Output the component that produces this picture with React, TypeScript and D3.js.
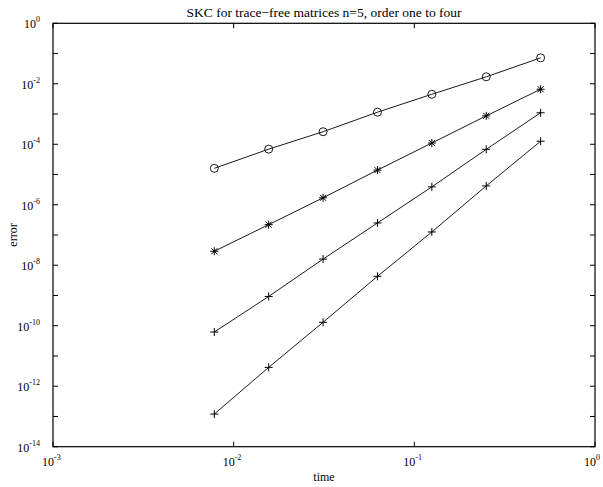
import React from "react";
import { scaleLog, line } from "d3";

const times = [0.0078125, 0.015625, 0.03125, 0.0625, 0.125, 0.25, 0.5];
const orderOne = [1.6e-5, 6.9e-5, 2.6e-4, 1.15e-3, 4.5e-3, 1.7e-2, 7.2e-2];
const orderTwo = [2.9e-8, 2.2e-7, 1.7e-6, 1.4e-5, 1.1e-4, 8.7e-4, 6.6e-3];
const orderThree = [6.2e-11, 9.3e-10, 1.6e-8, 2.5e-7, 3.9e-6, 6.8e-5, 1.1e-3];
const orderFour = [1.2e-13, 4.2e-12, 1.3e-10, 4.3e-9, 1.26e-7, 4.2e-6, 1.26e-4];
const xTickExps = [-3, -2, -1, 0];
const yTickExps = [0, -2, -4, -6, -8, -10, -12, -14];
const yMinorExps = [-1, -3, -5, -7, -9, -11, -13];

const series = [
  { values: orderOne, marker: "circle" },
  { values: orderTwo, marker: "star" },
  { values: orderThree, marker: "plus" },
  { values: orderFour, marker: "plus" },
];

const width = 603;
const height = 487;
const left = 53;
const right = 595;
const top = 23.3;
const bottom = 446.7;
const font = "Liberation Serif, Times New Roman, Times, serif";

const Marker = ({ x, y, type }: { x: number; y: number; type: string }) => {
  if (type === "circle") return <circle cx={x} cy={y} r={4} fill="none" stroke="#000" strokeWidth={0.9} />;
  const s = 4;
  if (type === "plus")
    return (
      <path d={`M${x - s},${y}H${x + s}M${x},${y - s}V${y + s}`} stroke="#000" strokeWidth={1} />
    );
  const d = s * 0.75;
  return (
    <path
      d={`M${x - s},${y}H${x + s}M${x},${y - s}V${y + s}M${x - d},${y - d}L${x + d},${y + d}M${x - d},${y + d}L${x + d},${y - d}`}
      stroke="#000"
      strokeWidth={1}
    />
  );
};

const Pow = ({ x, y, exp, anchor }: { x: number; y: number; exp: number; anchor: string }) => (
  <text x={x} y={y} textAnchor={anchor} fontFamily={font} fontSize={12} fill="#000">
    10<tspan dy={-6} fontSize={8}>{exp}</tspan>
  </text>
);

export default function App() {
  const x = scaleLog().domain([1e-3, 1]).range([left, right]);
  const y = scaleLog().domain([1e-14, 1]).range([bottom, top]);
  const path = line<number>()
    .x((_, i) => x(times[i]))
    .y((d) => y(d));
  const tick = 5;

  return (
    <svg width={width} height={height} style={{ position: "absolute", left: 0, top: 0, background: "#fff" }}>
      <rect x={0} y={0} width={width} height={height} fill="#fff" />
      <text x={(left + right) / 2} y={17} textAnchor="middle" fontFamily={font} fontSize={13.5}>
        SKC for trace−free matrices n=5, order one to four
      </text>
      {xTickExps.map((e) => (
        <g key={"x" + e}>
          <line x1={x(10 ** e)} x2={x(10 ** e)} y1={bottom} y2={bottom - tick} stroke="#000" />
          <line x1={x(10 ** e)} x2={x(10 ** e)} y1={top} y2={top + tick} stroke="#000" />
          <Pow x={x(10 ** e) - 11} y={bottom + 19} exp={e} anchor="start" />
        </g>
      ))}
      {yTickExps.concat(yMinorExps).map((e) => (
        <g key={"y" + e}>
          <line x1={left} x2={left + tick} y1={y(10 ** e)} y2={y(10 ** e)} stroke="#000" />
          <line x1={right} x2={right - tick} y1={y(10 ** e)} y2={y(10 ** e)} stroke="#000" />
        </g>
      ))}
      {yTickExps.map((e) => (
        <Pow key={"yl" + e} x={left - 13} y={y(10 ** e) + 5} exp={e} anchor="end" />
      ))}
      <rect x={left} y={top} width={right - left} height={bottom - top} fill="none" stroke="#000" strokeWidth={1.2} />
      {series.map((s, i) => (
        <g key={i}>
          <path d={path(s.values) || ""} fill="none" stroke="#000" strokeWidth={0.9} />
          {s.values.map((v, j) => (
            <Marker key={j} x={x(times[j])} y={y(v)} type={s.marker} />
          ))}
        </g>
      ))}
      <text x={(left + right) / 2} y={481} textAnchor="middle" fontFamily={font} fontSize={12}>
        time
      </text>
      <text
        transform={`translate(17,${(top + bottom) / 2}) rotate(-90)`}
        textAnchor="middle"
        fontFamily={font}
        fontSize={12}
      >
        error
      </text>
    </svg>
  );
}
